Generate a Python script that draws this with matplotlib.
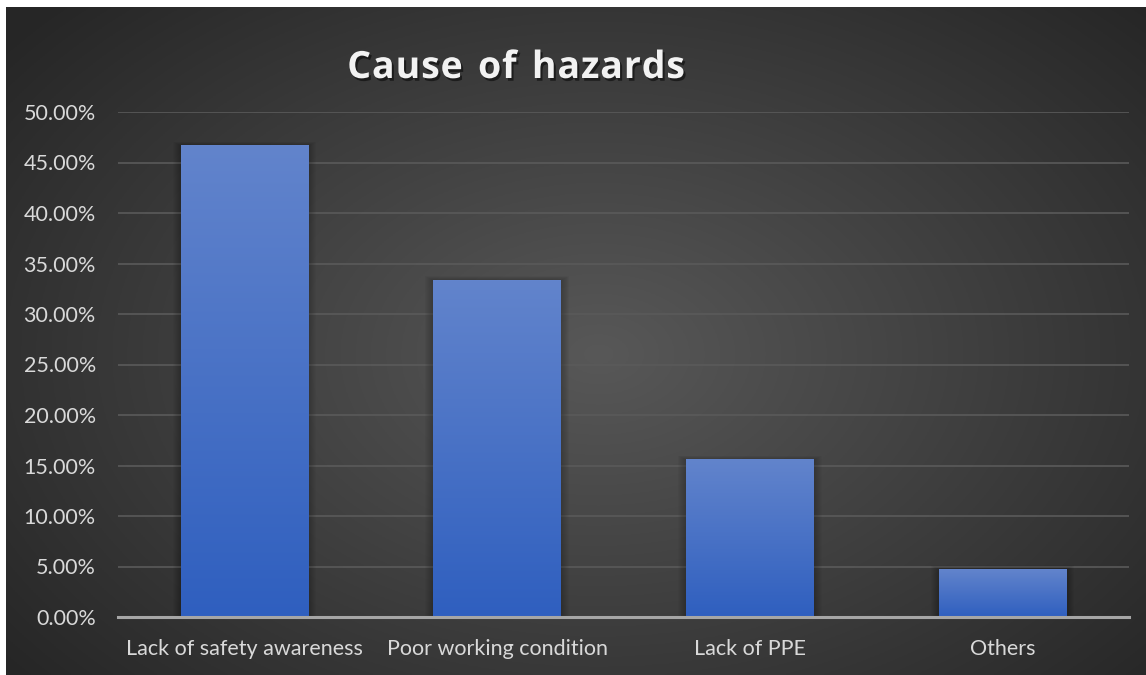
import matplotlib.pyplot as plt
import matplotlib.patheffects as pe
import numpy as np
from matplotlib.patches import Rectangle

categories = ["Lack of safety awareness", "Poor working condition", "Lack of PPE", "Others"]
values = [46.67, 33.33, 15.56, 4.75]   # percent
yticks = [0, 5, 10, 15, 20, 25, 30, 35, 40, 45, 50]
title = "Cause of hazards"

W, H = 1146, 675
fig = plt.figure(figsize=(W / 100, H / 100), dpi=100)
fig.patch.set_facecolor("white")

# dark radial-gradient background (white margin top/left like the source)
bg = fig.add_axes([6 / W, 0, 1 - 6 / W, 1 - 7 / H])
bg.set_axis_off()
yy, xx = np.mgrid[0:1:300j, 0:1:500j]
r = np.sqrt(((xx - 0.52) / 0.75) ** 2 + ((yy - 0.52) / 0.85) ** 2)
shade = np.clip(0.345 - 0.22 * r, 0.15, 1)
bg.imshow(np.dstack([shade] * 3), extent=[0, 1, 0, 1], aspect="auto")

ax = fig.add_axes([118 / W, 1 - 617 / H, (1129 - 118) / W, (617 - 112) / H])
ax.patch.set_alpha(0)
x = np.arange(len(categories))
bars = ax.bar(x, values, width=0.505, color="none", zorder=3)

grad = np.linspace(0, 1, 256).reshape(-1, 1)
top_c = np.array([0x62, 0x84, 0xcc]) / 255
bot_c = np.array([0x2f, 0x5f, 0xbf]) / 255
grad_img = top_c * (1 - grad[..., None]) + bot_c * grad[..., None]

px_x = 1 / 252.5
px_y = 50 / 505
for b in bars:
    x0, w, h = b.get_x(), b.get_width(), b.get_height()
    # soft shadow
    for k in range(1, 9):
        ax.add_patch(Rectangle((x0 - k * px_x, 0), w + 2 * k * px_x, h + k * px_y * 0.5,
                               facecolor="black", edgecolor="none", alpha=0.028, zorder=2))
    ax.imshow(grad_img, extent=[x0, x0 + w, 0, h], aspect="auto", zorder=3)

ax.set_xlim(-0.5, len(categories) - 0.5)
ax.set_ylim(0, 50)
ax.set_yticks(yticks)
ax.set_yticklabels(["%.2f%%" % t for t in yticks])
ax.set_xticks(x)
ax.set_xticklabels(categories)
ax.grid(axis="y", color="#5a5a5a", linewidth=1.2, zorder=1)
ax.set_axisbelow(True)
for s in ["top", "right", "left"]:
    ax.spines[s].set_visible(False)
ax.spines["bottom"].set_color("#a6a6a6")
ax.spines["bottom"].set_linewidth(2.2)
ax.spines["bottom"].set_zorder(4)
ax.tick_params(length=0, colors="#d9d9d9", labelsize=15.5)
ax.tick_params(axis="y", pad=16)
ax.tick_params(axis="x", pad=16)
for lbl in ax.get_xticklabels() + ax.get_yticklabels():
    lbl.set_fontfamily("Lato")

# title with letter spacing, drawn char by char
renderer = fig.canvas.get_renderer()
tracking = 0.9  # px between letters
style = dict(fontsize=27, fontweight="bold", color="#f2f2f2", family="Open Sans",
             va="baseline", ha="left",
             path_effects=[pe.withSimplePatchShadow(offset=(1.5, -2), shadow_rgbFace="black", alpha=0.5)])
widths = []
for ch in title:
    t = fig.text(0, 0, ch if ch != " " else "n", **style)
    widths.append(t.get_window_extent(renderer).width * (0.55 if ch == " " else 1))
    t.remove()
total = sum(widths) + tracking * (len(title) - 1)
xpos = 516 - total / 2
base_y = 78
for ch, wch in zip(title, widths):
    if ch != " ":
        fig.text(xpos / W, 1 - base_y / H, ch, **style)
    xpos += wch + tracking

fig.savefig("out.png", dpi=100, facecolor="white")
